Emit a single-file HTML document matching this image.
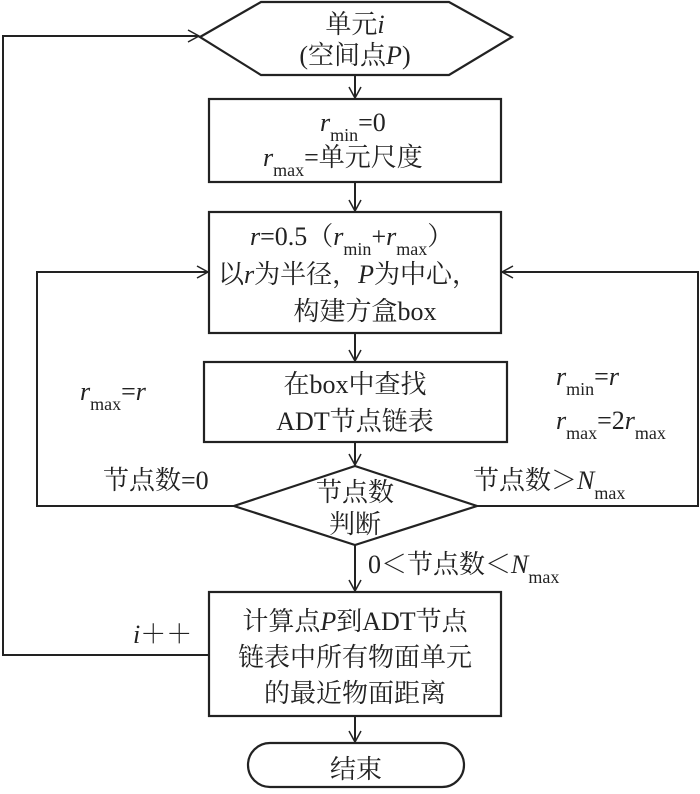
<!DOCTYPE html>
<html><head><meta charset="utf-8"><style>
body{margin:0;background:#fff;}
svg text{font-family:"Liberation Serif","Noto Serif CJK SC",serif;font-size:26px;fill:#222;}
.s{font-size:18px;}
</style></head><body>
<svg width="700" height="789" viewBox="0 0 700 789" xmlns="http://www.w3.org/2000/svg">
<defs><marker id="a" markerWidth="14" markerHeight="14" refX="12" refY="7" orient="auto" markerUnits="userSpaceOnUse"><path d="M1,1 L12,7 L1,13" fill="none" stroke="#222" stroke-width="1.5"/></marker></defs>
<g fill="none" stroke="#222" stroke-width="2.2">
<polygon points="200,37 261,2 449,2 512,37 449,75 261,75" fill="#fff"/>
<rect x="209" y="99" width="292" height="83"/>
<rect x="209" y="212" width="292" height="121"/>
<rect x="204" y="362" width="303" height="80"/>
<polygon points="355,466 477,506 355,545 234,506"/>
<rect x="209" y="592" width="292" height="124"/>
<rect x="248" y="743" width="216" height="44" rx="22"/>
</g>
<g fill="none" stroke="#222" stroke-width="2" marker-end="url(#a)">
<line x1="355" y1="75" x2="355" y2="98"/>
<line x1="355" y1="182" x2="355" y2="211"/>
<line x1="355" y1="333" x2="355" y2="361"/>
<line x1="355" y1="442" x2="355" y2="465"/>
<line x1="355" y1="545" x2="355" y2="591"/>
<line x1="355" y1="716" x2="355" y2="742"/>
<polyline points="209,655 3,655 3,36 199,36"/>
<polyline points="234,506 37,506 37,272 208,272"/>
<polyline points="477,506 698,506 698,272 502,272"/>
</g>
<text x="355" y="33" text-anchor="middle">单元<tspan font-style="italic">i</tspan></text>
<text x="355" y="64" text-anchor="middle">(空间点<tspan font-style="italic">P</tspan>)</text>
<text x="320" y="131"><tspan font-style="italic">r</tspan><tspan class="s" dy="10">min</tspan><tspan dy="-10">=0</tspan></text>
<text x="263" y="166"><tspan font-style="italic">r</tspan><tspan class="s" dy="10">max</tspan><tspan dy="-10">=单元尺度</tspan></text>
<text x="250" y="245"><tspan font-style="italic">r</tspan>=0.5（<tspan font-style="italic">r</tspan><tspan class="s" dy="10">min</tspan><tspan dy="-10">+</tspan><tspan font-style="italic">r</tspan><tspan class="s" dy="10">max</tspan><tspan dy="-10">）</tspan></text>
<text x="218" y="283">以<tspan font-style="italic">r</tspan>为半径，<tspan font-style="italic">P</tspan>为中心，</text>
<text x="365" y="320" text-anchor="middle">构建方盒box</text>
<text x="355" y="393" text-anchor="middle">在box中查找</text>
<text x="355" y="430" text-anchor="middle">ADT节点链表</text>
<text x="355" y="501" text-anchor="middle">节点数</text>
<text x="355" y="533" text-anchor="middle">判断</text>
<text x="355" y="630" text-anchor="middle">计算点<tspan font-style="italic">P</tspan>到ADT节点</text>
<text x="355" y="666" text-anchor="middle">链表中所有物面单元</text>
<text x="355" y="702" text-anchor="middle">的最近物面距离</text>
<text x="356" y="778" text-anchor="middle">结束</text>
<text x="80" y="400"><tspan font-style="italic">r</tspan><tspan class="s" dy="10">max</tspan><tspan dy="-10">=</tspan><tspan font-style="italic">r</tspan></text>
<text x="556" y="385"><tspan font-style="italic">r</tspan><tspan class="s" dy="10">min</tspan><tspan dy="-10">=</tspan><tspan font-style="italic">r</tspan></text>
<text x="556" y="429"><tspan font-style="italic">r</tspan><tspan class="s" dy="10">max</tspan><tspan dy="-10">=2</tspan><tspan font-style="italic">r</tspan><tspan class="s" dy="10">max</tspan></text>
<text x="103" y="489">节点数=0</text>
<text x="473" y="489">节点数＞<tspan font-style="italic">N</tspan><tspan class="s" dy="10">max</tspan></text>
<text x="368" y="573">0＜节点数＜<tspan font-style="italic">N</tspan><tspan class="s" dy="10">max</tspan></text>
<text x="133" y="643"><tspan font-style="italic">i</tspan>＋＋</text>
</svg>
</body></html>
